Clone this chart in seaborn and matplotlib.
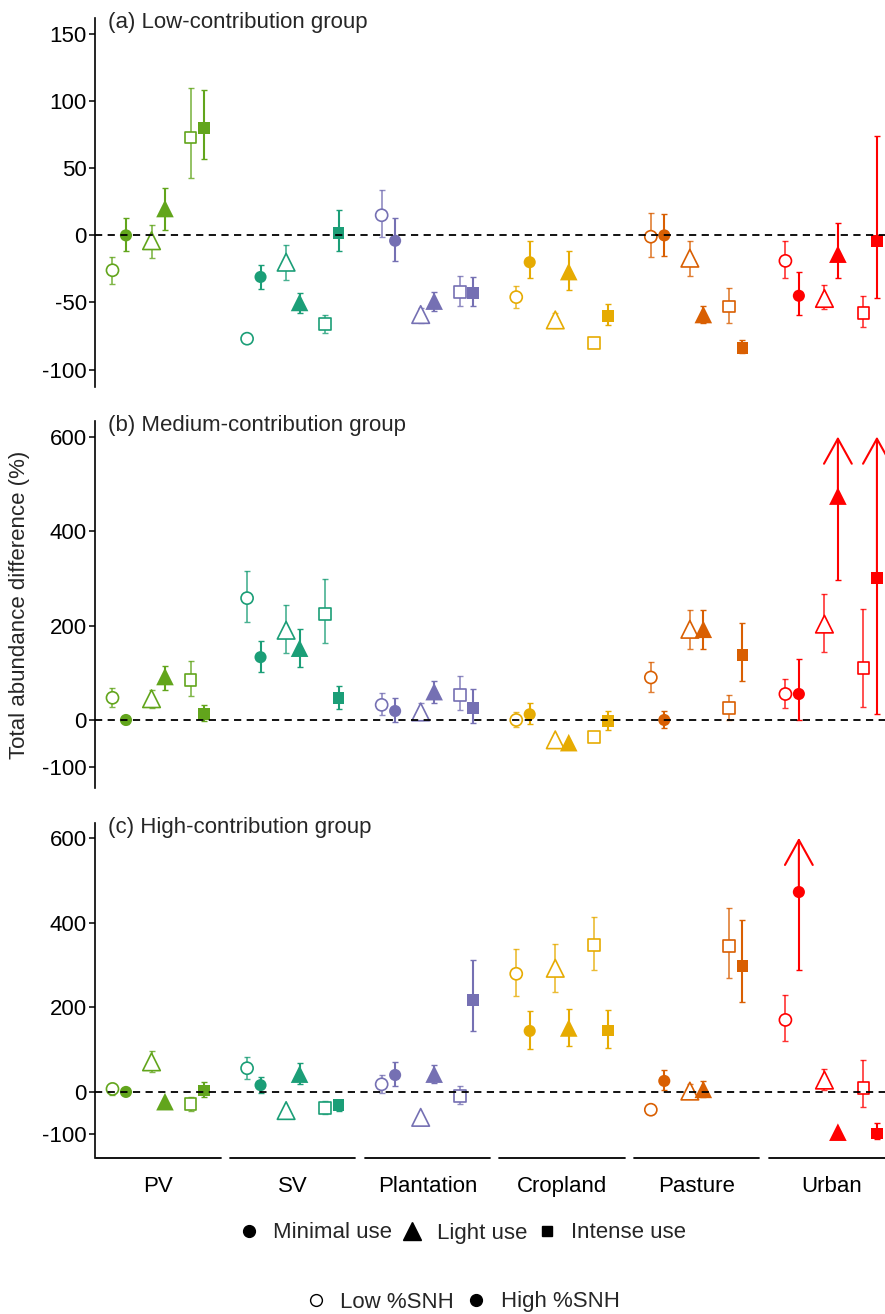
import numpy as np
import pandas as pd
import matplotlib
matplotlib.use("Agg")
import matplotlib.pyplot as plt
import matplotlib.transforms as mtrans
from matplotlib.lines import Line2D
import seaborn as sns


# categories
land_uses = ["PV", "SV", "Plantation", "Cropland", "Pasture", "Urban"]
intensities = ["Minimal use", "Light use", "Intense use"]
snh_levels = ["Low %SNH", "High %SNH"]
panel_titles = ["(a) Low-contribution group",
                "(b) Medium-contribution group",
                "(c) High-contribution group"]

# one row per land use, order within a row:
# Minimal/Low, Minimal/High, Light/Low, Light/High, Intense/Low, Intense/High
a_mean = [-26, 0, -4, 20, 73, 80,
          -77, -31, -20, -50, -66, 2,
          15, -4, -59, -49, -42, -43,
          -46, -20, -63, -27, -80, -60,
          -1, 0, -17, -59, -53, -84,
          -19, -45, -47, -14, -58, -4]
a_lo = [-36, -12, -17, 4, 43, 57,
        -77, -40, -33, -58, -73, -12,
        -1, -19, -65, -56, -53, -53,
        -54, -32, -69, -41, -80, -67,
        -16, -15, -30, -65, -65, -88,
        -32, -59, -55, -32, -68, -47]
a_hi = [-16, 13, 8, 35, 110, 108,
        -77, -22, -7, -43, -59, 19,
        34, 13, -54, -42, -30, -31,
        -38, -4, -58, -12, -80, -51,
        17, 16, -4, -53, -39, -78,
        -4, -27, -37, 9, -45, 74]

b_mean = [47, 0, 45, 92, 85, 13,
          258, 133, 190, 152, 224, 46,
          32, 19, 17, 60, 53, 25,
          0, 12, -42, -48, -36, -2,
          90, 0, 192, 192, 26, 137,
          55, 55, 203, 474, 110, 300]
b_lo = [27, -8, 25, 64, 51, -3,
        207, 102, 142, 112, 163, 23,
        11, -4, 0, 37, 21, -7,
        -15, -9, -42, -48, -36, -21,
        60, -17, 150, 150, 0, 82,
        25, -1, 144, 296, 28, 12]
b_hi = [68, 8, 64, 114, 125, 32,
        316, 167, 243, 192, 298, 72,
        57, 46, 35, 83, 93, 65,
        16, 35, -42, -48, -36, 19,
        123, 19, 233, 233, 53, 205,
        87, 129, 267, 600, 235, 600]

c_mean = [7, 0, 71, -23, -29, 3,
          56, 16, -44, 42, -38, -31,
          18, 40, -60, 42, -10, 217,
          279, 144, 292, 151, 347, 145,
          -42, 26, 2, 6, 345, 298,
          170, 472, 28, -95, 9, -98]
c_lo = [-7, -5, 47, -23, -44, -13,
        31, -2, -44, 18, -52, -44,
        -2, 14, -60, 22, -28, 144,
        227, 101, 237, 108, 288, 104,
        -42, 5, -15, -13, 270, 212,
        120, 288, 5, -95, -35, -110]
c_hi = [22, 5, 97, -23, -12, 23,
        82, 36, -44, 68, -22, -19,
        40, 71, -60, 64, 14, 311,
        338, 192, 350, 196, 414, 194,
        -42, 52, 18, 26, 435, 405,
        229, 600, 54, -95, 76, -73]

y_ticks_a = [-100, -50, 0, 50, 100, 150]
y_ticks_bc = [-100, 0, 200, 400, 600]
arrow_top = 600  # intervals reaching this are drawn as arrows

palette = {"PV": "#62A51C", "SV": "#1B9E77", "Plantation": "#7570B3",
           "Cropland": "#E6AB02", "Pasture": "#D95F02", "Urban": "#FF0000"}
marker_map = {"Minimal use": "o", "Light use": "^", "Intense use": "s"}
size_map = {"Minimal use": 76, "Light use": 160, "Intense use": 70}
group_off = [-0.29, 0.0, 0.29]
pair_off = [-0.05, 0.05]


def make_frame(mean, lo, hi):
    rows = []
    for i, lu in enumerate(land_uses):
        for j, inten in enumerate(intensities):
            for k, snh in enumerate(snh_levels):
                n = i * 6 + j * 2 + k
                rows.append(dict(land_use=lu, intensity=inten, snh=snh,
                                 x=i + group_off[j] + pair_off[k],
                                 val=mean[n], lo=lo[n], hi=hi[n]))
    return pd.DataFrame(rows)


sns.set_theme(style="ticks")
plt.rcParams["font.family"] = ["Liberation Sans", "DejaVu Sans"]
plt.rcParams["axes.unicode_minus"] = False

W, H = 885, 1314
FS = 16
fig = plt.figure(figsize=(W / 100, H / 100), dpi=100)


def px_axes(top, bottom, left=95, right=885):
    return fig.add_axes([left / W, 1 - bottom / H, (right - left) / W, (bottom - top) / H])


panels = [
    (px_axes(18, 387), make_frame(a_mean, a_lo, a_hi), (-113, 162), y_ticks_a),
    (px_axes(421, 788), make_frame(b_mean, b_lo, b_hi), (-144, 633), y_ticks_bc),
    (px_axes(823, 1158), make_frame(c_mean, c_lo, c_hi), (-156, 635), y_ticks_bc),
]

for p, (ax, df, ylim, yticks) in enumerate(panels):
    # error bars
    for _, r in df.iterrows():
        col = palette[r["land_use"]]
        is_open = r["snh"] == "Low %SNH"
        alpha = 0.8 if is_open else 1.0
        lw = 1.2 if is_open else 1.5
        v, lo, hi = r["val"], r["lo"], r["hi"]
        up = 0 if hi >= arrow_top else hi - v
        if hi > lo:
            ax.errorbar(r["x"], v, yerr=[[v - lo], [up]], fmt="none",
                        ecolor=col, alpha=alpha, elinewidth=lw, capsize=2.2,
                        capthick=1.0, zorder=2)
        if hi >= arrow_top:
            ax.annotate("", xy=(r["x"], arrow_top), xytext=(r["x"], v),
                        arrowprops=dict(arrowstyle="->,head_length=1.8,head_width=1.0",
                                        color=col, lw=1.5, shrinkA=0, shrinkB=0,
                                        mutation_scale=10),
                        annotation_clip=False, zorder=2)

    # markers
    for snh in snh_levels:
        sub = df[df["snh"] == snh]
        sns.scatterplot(data=sub, x="x", y="val", hue="land_use", style="intensity",
                        size="intensity", palette=palette, markers=marker_map,
                        sizes=size_map, hue_order=land_uses, style_order=intensities,
                        size_order=intensities, legend=False, linewidth=0,
                        ax=ax, zorder=3)
        if snh == "Low %SNH":
            coll = ax.collections[-1]
            fc = coll.get_facecolors()
            coll.set_edgecolors(fc)
            coll.set_facecolors("white")
            coll.set_linewidths(1.2)

    ax.axhline(0, color="black", ls=(0, (4, 3)), lw=1.3, zorder=4)

    ax.set_xlim(-0.47, 5.4)
    ax.set_ylim(*ylim)
    ax.set_yticks(yticks)
    ax.set_xlabel("")
    ax.set_ylabel("")
    for s in ["top", "right", "bottom"]:
        ax.spines[s].set_visible(False)
    ax.spines["left"].set_linewidth(1.2)
    ax.spines["left"].set_color("black")
    ax.tick_params(axis="y", length=4, width=1.1, colors="black", labelsize=FS, pad=2)

    if p < 2:
        ax.set_xticks([])
    else:
        ax.set_xticks(range(len(land_uses)))
        ax.set_xticklabels(land_uses)
        ax.tick_params(axis="x", length=0, labelsize=FS, pad=13, colors="black")
        trans = mtrans.blended_transform_factory(ax.transData, ax.transAxes)
        for i in range(len(land_uses)):
            ax.plot([i - 0.465, i + 0.465], [0, 0], color="black", lw=1.3,
                    transform=trans, clip_on=False)

    ax.annotate(panel_titles[p], xy=(0, 1), xycoords="axes fraction",
                xytext=(9, 4), textcoords="offset points", ha="left", va="top",
                fontsize=FS)

fig.text(20 / W, 1 - 605 / H, "Total abundance difference (%)", rotation=90,
         ha="center", va="center", fontsize=FS)

use_handles = [Line2D([], [], ls="", marker=marker_map[k], color="black",
                      markersize={"Minimal use": 8.5, "Light use": 13, "Intense use": 7.5}[k])
               for k in intensities]
fig.legend(use_handles, intensities, loc="center", bbox_to_anchor=(462 / W, 1 - 1233 / H),
           ncol=3, frameon=False, fontsize=FS, handlelength=1.0, handletextpad=0.6,
           columnspacing=0.4)

snh_handles = [Line2D([], [], ls="", marker="o", markersize=8.5, markerfacecolor="white",
                      markeredgecolor="black", markeredgewidth=1.0),
               Line2D([], [], ls="", marker="o", markersize=8.5, color="black")]
fig.legend(snh_handles, snh_levels, loc="center", bbox_to_anchor=(462 / W, 1 - 1302 / H),
           ncol=2, frameon=False, fontsize=FS, handlelength=1.0, handletextpad=0.6,
           columnspacing=0.5)

fig.savefig("out.png", dpi=100)
